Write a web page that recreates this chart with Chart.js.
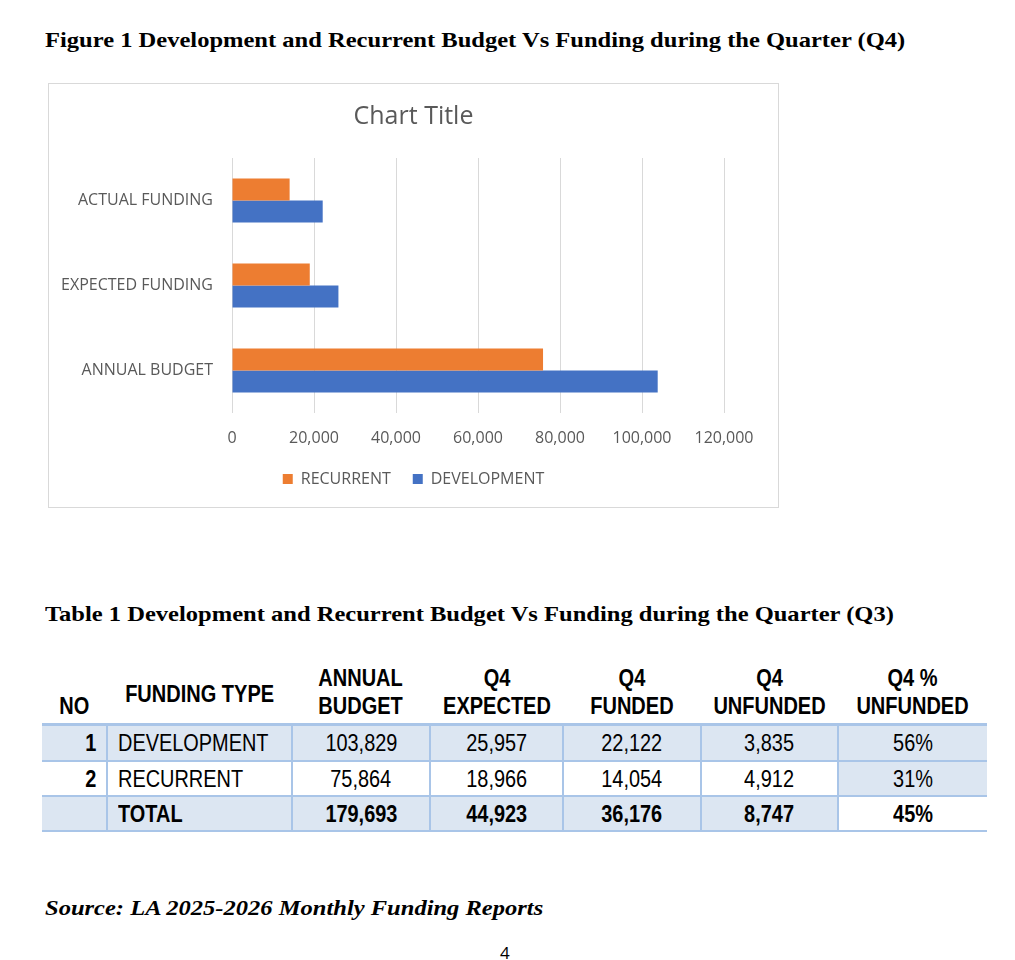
<!DOCTYPE html>
<html>
<head>
<meta charset="utf-8">
<script src="https://cdn.jsdelivr.net/npm/chart.js@4.4.1/dist/chart.umd.min.js"></script>
<style>
  html, body { margin: 0; padding: 0; background: #fff; }
  body { width: 1015px; height: 960px; position: relative; overflow: hidden; }
  .caption { position: absolute; left: 45px; font-family: "Liberation Serif", "Times New Roman", serif;
             font-weight: bold; font-size: 22px; line-height: 24px; color: #000; white-space: nowrap;
             transform: scaleX(1.115); transform-origin: left center; }
  #chartBox { position: absolute; left: 48px; top: 83px; width: 729px; height: 423px;
              border: 1px solid #d9d9d9; }
  #chartBox canvas { display: block; }
  table { position: absolute; left: 42px; top: 662px; width: 945px; border-collapse: collapse;
          font-family: "Liberation Sans", Arial, sans-serif; color: #000; table-layout: fixed; }
  th { font-size: 23px; font-weight: bold; line-height: 28px; vertical-align: bottom;
       padding: 0 0 3px 0; text-align: center; white-space: nowrap; overflow: visible; }
  td { font-size: 24px; padding: 0; text-align: center; border-left: 2px solid #a9c5e8;
       border-bottom: 2px solid #a9c5e8; white-space: nowrap; overflow: visible; }
  td:first-child { border-left: none; text-align: right; padding-right: 10px; font-weight: bold; }
  td.name { text-align: left; padding-left: 10px; }
  tbody tr:first-child td { border-top: 3px solid #a9c5e8; }
  .blue { background: #dce6f2; }
  .bold { font-weight: bold; }
  /* narrow the Arial-like face to look like Arial Narrow */
  .n { display: inline-block; transform: scaleX(0.83); transform-origin: center; }
  th .n { transform: scaleX(0.87); }
  td.name .n { transform-origin: left center; }
  td:first-child .n { transform-origin: right center; }
  #source { position: absolute; left: 45px; top: 896px; font-family: "Liberation Serif", serif;
            font-weight: bold; font-style: italic; font-size: 22px; line-height: 24px; white-space: nowrap;
            transform: scaleX(1.115); transform-origin: left center; }
  #page { position: absolute; left: 500px; top: 941px; font-family: "Open Sans", sans-serif; font-size: 17px; }
</style>
</head>
<body>
<div class="caption" style="top:28px">Figure 1 Development and Recurrent Budget Vs Funding during the Quarter (Q4)</div>
<div id="chartBox"><canvas id="budgetChart" width="729" height="423"></canvas></div>
<div class="caption" style="top:602px">Table 1 Development and Recurrent Budget Vs Funding during the Quarter (Q3)</div>
<table id="fundTable"></table>
<div id="source">Source: LA 2025-2026 Monthly Funding Reports</div>
<div id="page">4</div>

<script>
// Chart data (values from Table 1)
const categories = ['ACTUAL FUNDING', 'EXPECTED FUNDING', 'ANNUAL BUDGET'];
const recurrentValues = [14054, 18966, 75864];
const developmentValues = [22122, 25957, 103829];
const xTicks = [0, 20000, 40000, 60000, 80000, 100000, 120000];

// Table data
const tableHeaders = [['NO'], ['FUNDING TYPE'], ['ANNUAL', 'BUDGET'], ['Q4', 'EXPECTED'],
                      ['Q4', 'FUNDED'], ['Q4', 'UNFUNDED'], ['Q4 %', 'UNFUNDED']];
const tableNo = ['1', '2', ''];
const tableTypes = ['DEVELOPMENT', 'RECURRENT', 'TOTAL'];
const annualBudget = ['103,829', '75,864', '179,693'];
const q4Expected = ['25,957', '18,966', '44,923'];
const q4Funded = ['22,122', '14,054', '36,176'];
const q4Unfunded = ['3,835', '4,912', '8,747'];
const q4PctUnfunded = ['56%', '31%', '45%'];

const colWidths = [65, 185, 138, 133, 138, 137, 149];
const rowHeights = [37, 35, 35];

function buildTable() {
    const table = document.getElementById('fundTable');
    const colgroup = document.createElement('colgroup');
    colWidths.forEach(w => {
        const c = document.createElement('col');
        c.style.width = w + 'px';
        colgroup.appendChild(c);
    });
    table.appendChild(colgroup);

    const thead = document.createElement('thead');
    const hr = document.createElement('tr');
    hr.style.height = '62px';
    tableHeaders.forEach((lines, i) => {
        const th = document.createElement('th');
        th.innerHTML = '<span class="n">' + lines.join('<br>') + '</span>';
        if (i === 1) { th.style.verticalAlign = 'middle'; th.style.paddingBottom = '0'; th.style.paddingTop = '3px'; }
        hr.appendChild(th);
    });
    thead.appendChild(hr);
    table.appendChild(thead);

    const tbody = document.createElement('tbody');
    // shading follows the reference: row 1 all blue, row 2 only last cell, total all but last
    const shade = [
        [1, 1, 1, 1, 1, 1, 1],
        [0, 0, 0, 0, 0, 0, 1],
        [1, 1, 1, 1, 1, 1, 0]
    ];
    for (let r = 0; r < 3; r++) {
        const tr = document.createElement('tr');
        tr.style.height = rowHeights[r] + 'px';
        const cells = [tableNo[r], tableTypes[r], annualBudget[r], q4Expected[r],
                       q4Funded[r], q4Unfunded[r], q4PctUnfunded[r]];
        cells.forEach((v, c) => {
            const td = document.createElement('td');
            const span = document.createElement('span');
            span.className = 'n';
            span.textContent = v;
            td.appendChild(span);
            if (c === 1) td.className = 'name';
            if (shade[r][c]) td.classList.add('blue');
            if (r === 2) td.classList.add('bold');
            tr.appendChild(td);
        });
        tbody.appendChild(tr);
    }
    table.appendChild(tbody);
}

function renderChart() {
    const ctx = document.getElementById('budgetChart').getContext('2d');
    const font = { family: "'Open Sans', sans-serif", size: 16 };
    new Chart(ctx, {
        type: 'bar',
        data: {
            labels: categories,
            datasets: [
                { label: 'RECURRENT', data: recurrentValues, backgroundColor: '#ED7D31' },
                { label: 'DEVELOPMENT', data: developmentValues, backgroundColor: '#4472C4' }
            ]
        },
        options: {
            indexAxis: 'y',
            responsive: false,
            animation: false,
            categoryPercentage: 0.52,
            barPercentage: 1.0,
            layout: { padding: { top: 0, right: 0, bottom: 10, left: 0 } },
            scales: {
                x: {
                    min: 0,
                    max: 120000,
                    afterBuildTicks: scale => { scale.ticks = xTicks.map(v => ({ value: v })); },
                    afterFit: scale => { scale.height = 36; },
                    grid: { color: '#d9d9d9', drawTicks: false },
                    border: { display: false },
                    ticks: {
                        padding: 16,
                        color: '#595959',
                        font: font,
                        callback: v => Number(v).toLocaleString('en-US')
                    }
                },
                y: {
                    afterFit: scale => { scale.width = 183; },
                    grid: { display: false, drawTicks: false },
                    border: { display: false },
                    ticks: { padding: 19, color: '#595959', font: font }
                },
                // empty right-hand axis: keeps the right margin inside the plot layout only
                yRight: {
                    type: 'category',
                    position: 'right',
                    labels: categories,
                    afterFit: scale => { scale.width = 54; },
                    grid: { display: false, drawTicks: false },
                    border: { display: false },
                    ticks: { display: false }
                }
            },
            plugins: {
                title: {
                    display: true,
                    text: 'Chart Title',
                    color: '#595959',
                    font: { family: "'Open Sans', sans-serif", size: 25, weight: 'normal' },
                    padding: { top: 18, bottom: 26 }
                },
                legend: {
                    position: 'bottom',
                    labels: {
                        boxWidth: 10,
                        boxHeight: 10,
                        padding: 22,
                        color: '#595959',
                        font: font
                    }
                },
                tooltip: { enabled: false }
            }
        }
    });
}

document.addEventListener('DOMContentLoaded', () => {
    buildTable();
    renderChart();
});
</script>
</body>
</html>
